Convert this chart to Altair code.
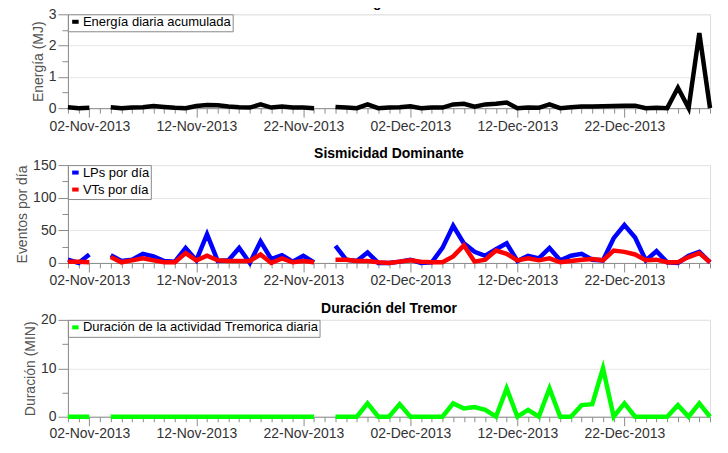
import altair as alt
import pandas as pd

# ---------------- data ----------------
fechas = [d.strftime("%Y-%m-%d") for d in pd.date_range("2013-10-31", "2013-12-30", freq="D")]

energia = [0.03, 0.0, 0.01, None,
           0.03, 0.0, 0.02, 0.03, 0.07, 0.04, 0.01, 0.0, 0.07, 0.1, 0.09, 0.05, 0.03, 0.02, 0.12, 0.02,
           0.05, 0.02, 0.02, 0.0, None,
           0.04, 0.02, 0.0, 0.12, 0.0, 0.02, 0.03, 0.06, 0.0, 0.02, 0.02, 0.12, 0.14, 0.05, 0.12, 0.14,
           0.18, 0.0, 0.02, 0.01, 0.12, 0.0, 0.03, 0.05, 0.05, 0.06, 0.07, 0.08, 0.08, 0.0, 0.01, 0.0,
           0.65, 0.0, 2.4, 0.0]

lps = [5, 0, 13, None,
       12, 3, 5, 14, 10, 3, 2, 23, 4, 44, 3, 4, 23, 0, 33, 6, 12, 2, 11, 1, None,
       26, 5, 3, 16, 0, 0, 2, 5, 0, 1, 23, 57, 30, 17, 11, 21, 30, 3, 11, 7, 23, 4, 11, 14, 5, 4,
       38, 58, 39, 4, 18, 1, 0, 11, 17, 1]

vts = [2, 2, 1, None,
       9, 1, 4, 7, 4, 1, 1, 15, 4, 11, 4, 3, 3, 3, 13, 0, 7, 1, 3, 1, None,
       5, 5, 3, 3, 1, 0, 2, 4, 2, 1, 1, 10, 27, 2, 5, 19, 14, 4, 7, 4, 7, 1, 3, 5, 6, 4,
       19, 17, 13, 4, 5, 1, 1, 9, 15, 1]

tremor = [0, 0, 0, None,
          0, 0, 0, 0, 0, 0, 0, 0, 0, 0, 0, 0, 0, 0, 0, 0, 0, 0, 0, 0, None,
          0, 0, 0, 2.75, 0, 0, 2.6, 0, 0, 0, 0, 2.75, 1.7, 2.0, 1.4, 0, 5.85, 0, 1.4, 0, 5.85, 0,
          0, 2.4, 2.6, 10, 0, 2.75, 0, 0, 0, 0, 2.4, 0, 2.75, 0]

etiquetas_dias = [2, 12, 22]

# ---------------- helpers ----------------
FONT = "Liberation Sans"
GRAY = "#8c8c8c"
W, H = 643, 97
LW = 4.5

ms = [int(pd.Timestamp(f, tz="UTC").timestamp() * 1000) for f in fechas]
major_test = "indexof(%s, utcdate(datum.value)) >= 0" % str(etiquetas_dias)

xscale = alt.Scale(type="utc", domain=[ms[0], ms[-1]], nice=False)


def xaxis(title=None):
    kw = dict(
        values=ms,
        labelExpr="%s ? utcFormat(datum.value, '%%d-%%b-%%Y') : ''" % major_test,
        tickSize={"condition": {"test": major_test, "value": 9}, "value": 5},
        grid=False, domainColor=GRAY, tickColor=GRAY, labelColor="#333333",
        labelFont=FONT, labelFontSize=14, labelPadding=2 if not title else 1, labelOverlap=False,
        labelFlush=False, domainWidth=1,
    )
    if title:
        return alt.Axis(title=title, titleFont=FONT, titleFontSize=14, titleFontWeight="normal",
                        titleColor="#444444", titlePadding=3, **kw)
    return alt.Axis(title=None, **kw)


def yaxis(title, values, step):
    test = "abs(datum.value / %s - round(datum.value / %s)) < 1e-6" % (step, step)
    return alt.Axis(
        title=title, values=values,
        labelExpr="%s ? format(datum.value, 'd') : ''" % test,
        tickSize={"condition": {"test": test, "value": 10}, "value": 6},
        grid=True, gridColor="#e6e6e6",
        gridOpacity={"condition": {"test": test + " && datum.value > 0", "value": 1}, "value": 0},
        domainColor=GRAY, tickColor=GRAY, labelColor="#333333", labelFont=FONT, labelFontSize=14,
        labelPadding=2, titleFont=FONT, titleFontSize=14, titleFontWeight="normal",
        titleColor="#555555", titlePadding=3,
    )


def legend():
    return alt.Legend(
        orient="top-left", offset=0, title=None, strokeColor="#888888", fillColor="white",
        padding=1, symbolType="stroke", symbolStrokeWidth=4, symbolSize=42, labelFont=FONT,
        labelFontSize=13, labelColor="black", rowPadding=0, labelOffset=1, labelLimit=500,
    )


def ptitle(text):
    return alt.TitleParams(text=text, font=FONT, fontSize=14, fontWeight="bold", color="black",
                           anchor="middle", offset=-3, frame="group")


# ---------------- panel 1 ----------------
df1 = pd.DataFrame({"fecha": fechas, "valor": energia, "serie": "Energía diaria acumulada"})
p1 = alt.Chart(df1, title=ptitle("Energía Diaria")).mark_line(
    strokeWidth=LW, invalid="break-paths-show-domains").encode(
    x=alt.X("fecha:T", scale=xscale, axis=xaxis()),
    y=alt.Y("valor:Q", scale=alt.Scale(domain=[0, 3], nice=False),
            axis=yaxis("Energía (MJ)", [0, 0.5, 1, 1.5, 2, 2.5, 3], 1)),
    color=alt.Color("serie:N", scale=alt.Scale(domain=["Energía diaria acumulada"], range=["#000000"]),
                    legend=legend()),
).properties(width=W, height=H - 3)

# ---------------- panel 2 ----------------
df2 = pd.concat([
    pd.DataFrame({"fecha": fechas, "valor": lps, "serie": "LPs por día"}),
    pd.DataFrame({"fecha": fechas, "valor": vts, "serie": "VTs por día"}),
])
p2 = alt.Chart(df2, title=ptitle("Sismicidad Dominante")).mark_line(
    strokeWidth=LW, invalid="break-paths-show-domains").encode(
    x=alt.X("fecha:T", scale=xscale, axis=xaxis()),
    y=alt.Y("valor:Q", scale=alt.Scale(domain=[0, 150], nice=False),
            axis=yaxis("Eventos por día", [0, 25, 50, 75, 100, 125, 150], 50)),
    color=alt.Color("serie:N", scale=alt.Scale(domain=["LPs por día", "VTs por día"],
                                              range=["#0000ff", "#ff0000"]), legend=legend()),
).properties(width=W, height=H + 1)

# ---------------- panel 3 ----------------
df3 = pd.DataFrame({"fecha": fechas, "valor": tremor, "serie": "Duración de la actividad Tremorica diaria"})
p3 = alt.Chart(df3, title=ptitle("Duración del Tremor")).mark_line(
    strokeWidth=LW, invalid="break-paths-show-domains").encode(
    x=alt.X("fecha:T", scale=xscale, axis=xaxis("Tiempo")),
    y=alt.Y("valor:Q", scale=alt.Scale(domain=[0, 20], nice=False),
            axis=yaxis("Duración (MIN)", [0, 5, 10, 15, 20], 10)),
    color=alt.Color("serie:N", scale=alt.Scale(domain=["Duración de la actividad Tremorica diaria"],
                                              range=["#00ff00"]), legend=legend()),
).properties(width=W, height=H)

chart = alt.vconcat(p1, p2, p3, spacing=12).resolve_scale(color="independent").properties(
    padding={"left": 7, "top": -13, "right": 0, "bottom": -15}
).configure_view(stroke=None).configure(background="white")

chart.save("out.html", embed_options={"renderer": "svg", "actions": False})
